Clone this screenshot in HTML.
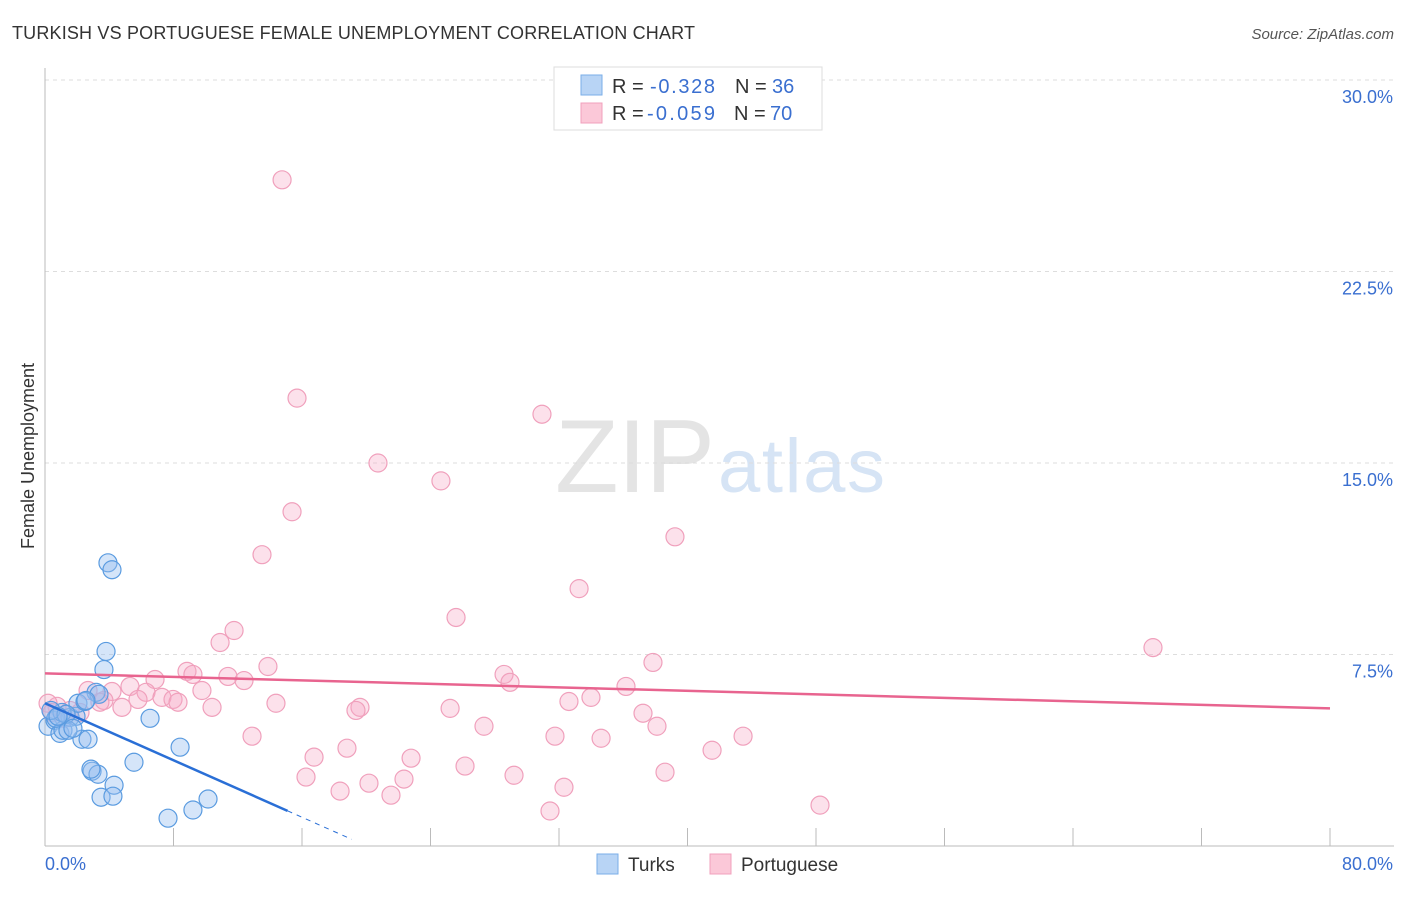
<!DOCTYPE html>
<html><head><meta charset="utf-8"><style>
body{margin:0;background:#fff;font-family:"Liberation Sans",sans-serif;}
svg text{font-family:"Liberation Sans",sans-serif;}
</style></head><body>
<svg id="chart" width="1406" height="892" viewBox="0 0 1406 892">
<text x="12" y="39" font-size="18" fill="#333" textLength="683">TURKISH VS PORTUGUESE FEMALE UNEMPLOYMENT CORRELATION CHART</text>
<text x="1394" y="39" font-size="15" fill="#555" font-style="italic" text-anchor="end">Source: ZipAtlas.com</text>
<text x="555" y="492" font-size="104" fill="#e4e4e4" textLength="160" font-family="Liberation Serif">ZIP</text>
<text x="718" y="492" font-size="76" fill="#d6e4f5" textLength="167">atlas</text>
<g id="grid"></g>
<g id="axes"></g>
<g id="pts"></g>
<g id="trend"></g>
<text transform="translate(34,456) rotate(-90)" font-size="18" fill="#333" text-anchor="middle">Female Unemployment</text>
<g>
<rect x="554" y="67" width="268" height="63" fill="#fff" stroke="#ddd"/>
<rect x="581" y="75" width="21" height="20" fill="#b8d4f5" stroke="#7aaee8"/>
<rect x="581" y="103" width="21" height="20" fill="#fbc8d8" stroke="#f0a0bc"/>
<text x="612" y="93" font-size="20" fill="#333">R =</text>
<text x="650" y="93" font-size="20" fill="#3a6fd0" textLength="65">-0.328</text>
<text x="735" y="93" font-size="20" fill="#333">N =</text>
<text x="772" y="93" font-size="20" fill="#3a6fd0">36</text>
<text x="612" y="120" font-size="20" fill="#333">R =</text>
<text x="647" y="120" font-size="20" fill="#3a6fd0" textLength="68">-0.059</text>
<text x="734" y="120" font-size="20" fill="#333">N =</text>
<text x="770" y="120" font-size="20" fill="#3a6fd0">70</text>
</g>
<g>
<rect x="597" y="854" width="21" height="20" fill="#b8d4f5" stroke="#7aaee8"/>
<text x="628" y="871" font-size="19" fill="#333">Turks</text>
<rect x="710" y="854" width="21" height="20" fill="#fbc8d8" stroke="#f0a0bc"/>
<text x="741" y="871" font-size="19" fill="#333">Portuguese</text>
</g>
</svg>
<script>
const yTicks=[7.5,15,22.5,30];
const yTickLabels=["7.5%","15.0%","22.5%","30.0%"];
const xTickLabels=["0.0%","80.0%"];
const turksX=[3.92,4.17,3.80,3.67,3.18,3.36,6.54,8.41,5.54,2.93,3.30,2.86,4.30,3.49,4.23,10.15,9.21,7.66,0.19,0.62,0.93,1.12,1.56,1.93,2.05,2.49,2.30,2.68,0.68,1.06,1.43,0.37,1.31,1.74,2.55,0.81];
const turksY=[11.09,10.82,7.62,6.91,6.02,5.94,5.00,3.87,3.28,2.93,2.81,3.01,2.38,1.91,1.95,1.84,1.41,1.09,4.69,4.92,4.41,4.53,5.04,5.08,5.59,5.66,4.18,4.18,5.00,5.23,4.53,5.31,5.16,4.61,5.70,5.08];
const portX=[14.76,15.69,30.94,20.73,24.65,15.38,39.22,13.51,33.25,25.59,11.77,10.90,68.98,37.85,13.88,8.84,9.21,28.58,11.39,12.39,6.85,28.95,36.17,5.29,2.68,4.17,9.77,6.29,7.28,7.97,5.79,8.28,3.67,33.99,32.62,14.38,4.79,10.40,19.61,19.36,25.22,37.23,2.18,1.56,0.75,0.19,38.10,27.33,31.75,12.89,34.62,43.46,41.53,18.80,16.75,22.79,26.15,38.60,29.20,16.25,22.35,20.17,18.37,21.54,32.31,48.25,31.44,0.44,1.18,3.42];
const portY=[26.09,17.54,16.91,15.00,14.30,13.09,12.11,11.41,10.08,8.95,8.44,7.97,7.77,7.19,7.03,6.84,6.72,6.72,6.64,6.48,6.52,6.41,6.25,6.25,6.09,6.05,6.09,6.02,5.82,5.74,5.74,5.63,5.70,5.82,5.66,5.59,5.43,5.43,5.43,5.31,5.39,5.20,5.23,5.31,5.47,5.59,4.69,4.69,4.30,4.30,4.22,4.30,3.75,3.83,3.48,3.44,3.13,2.89,2.77,2.70,2.62,2.46,2.15,1.99,2.30,1.60,1.37,5.23,5.00,5.63];
const turksTrend=[5.59,-0.279];
const portTrend=[6.76,-0.0171];
const NS="http://www.w3.org/2000/svg";
const X0=45,X1=1330,Y0=846,Y1=80;
function sx(v){return X0+(X1-X0)*v/80;}
function sy(v){return Y0-(Y0-Y1)*v/30;}
function mk(p,t,a){const e=document.createElementNS(NS,t);for(const k in a)e.setAttribute(k,a[k]);p.appendChild(e);return e;}
const grid=document.getElementById('grid'),axes=document.getElementById('axes'),pts=document.getElementById('pts'),tr=document.getElementById('trend');
yTicks.forEach((t,i)=>{
 const l=mk(grid,'line',{x1:X0,x2:1394,y1:sy(t),y2:sy(t),stroke:'#ddd','stroke-dasharray':'4,4'});
 
 
 const tx=mk(grid,'text',{x:1393,y:sy(t)+23,'font-size':18,fill:'#3a6fd0','text-anchor':'end'});tx.textContent=yTickLabels[i];
 
 
});
let ax=mk(axes,'line',{x1:X0,x2:X0,y1:68,y2:Y0,stroke:'#bbb'});


ax=mk(axes,'line',{x1:X0,x2:1394,y1:Y0,y2:Y0,stroke:'#bbb'});


for(let i=1;i<=10;i++){const t=mk(axes,'line',{x1:sx(i*8),x2:sx(i*8),y1:Y0,y2:Y0-18,stroke:'#bbb'});
 
 }
let xl=mk(axes,'text',{x:45,y:870,'font-size':18,fill:'#3a6fd0'});xl.textContent=xTickLabels[0];


xl=mk(axes,'text',{x:1393,y:870,'font-size':18,fill:'#3a6fd0','text-anchor':'end'});xl.textContent=xTickLabels[1];


portX.forEach((x,i)=>{const c=mk(pts,'circle',{cx:sx(x),cy:sy(portY[i]),r:9,fill:'rgba(246,170,198,0.35)',stroke:'#f0a0bc','stroke-width':1.2});
 
 });
turksX.forEach((x,i)=>{const c=mk(pts,'circle',{cx:sx(x),cy:sy(turksY[i]),r:9,fill:'rgba(150,190,240,0.4)',stroke:'#5a9be0','stroke-width':1.2});
 
 });
let l=mk(tr,'line',{x1:sx(0),y1:sy(portTrend[0]),x2:sx(80),y2:sy(portTrend[0]+portTrend[1]*80),stroke:'#e8648f','stroke-width':2.5});


l=mk(tr,'line',{x1:sx(0),y1:sy(turksTrend[0]),x2:sx(15.1),y2:sy(turksTrend[0]+turksTrend[1]*15.1),stroke:'#2a6fd6','stroke-width':2.5});


l=mk(tr,'line',{x1:sx(15.1),y1:sy(turksTrend[0]+turksTrend[1]*15.1),x2:sx(19.1),y2:sy(turksTrend[0]+turksTrend[1]*19.1),stroke:'#2a6fd6','stroke-width':1,'stroke-dasharray':'5,5'});


</script>
</body></html>
